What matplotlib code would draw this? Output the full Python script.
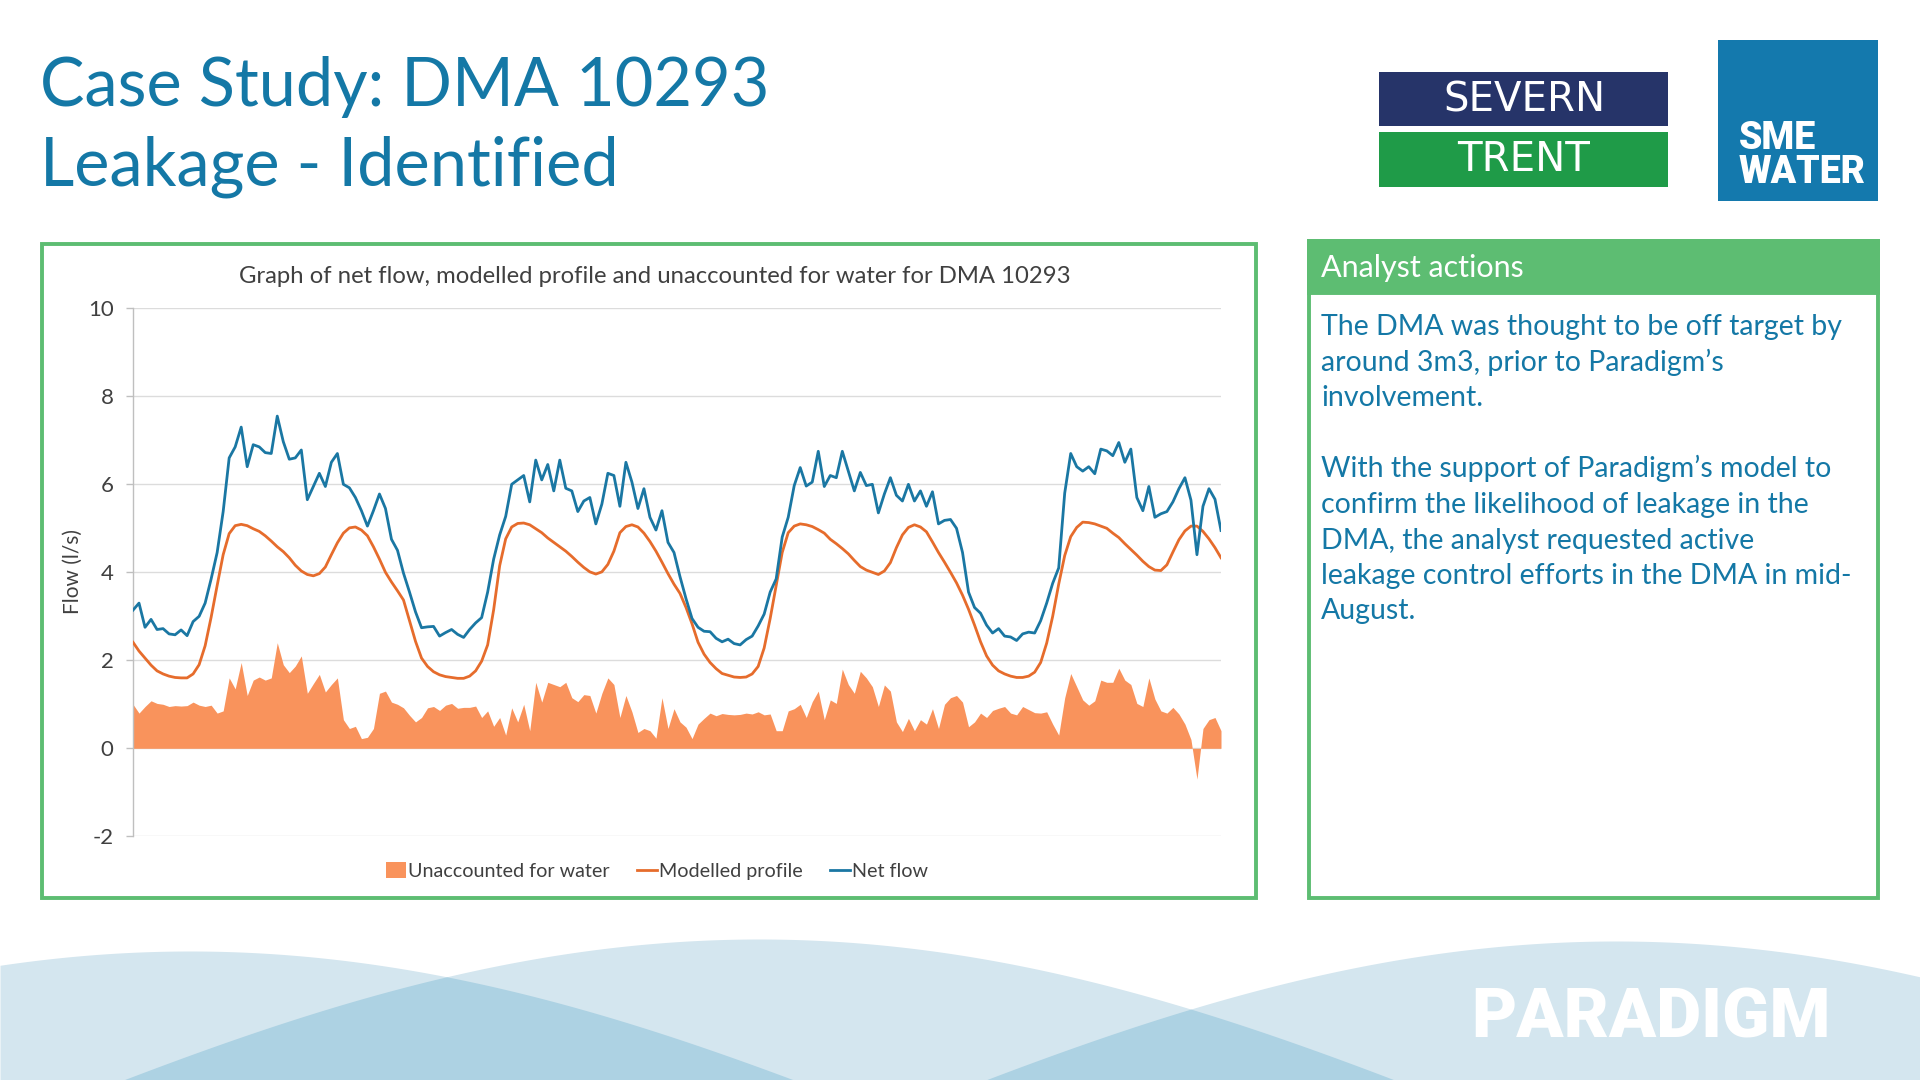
import numpy as np
import matplotlib
matplotlib.use("Agg")
import matplotlib.pyplot as plt
from matplotlib.patches import Rectangle, Patch
from matplotlib.lines import Line2D

# ---------------- data (30-min samples) ----------------
net_flow = [
    3.14, 3.30, 2.75, 2.93, 2.70, 2.72, 2.60, 2.58, 2.69, 2.56,
    2.88, 3.00, 3.30, 3.85, 4.45, 5.38, 6.60, 6.85, 7.30, 6.40,
    6.90, 6.85, 6.72, 6.70, 7.55, 6.97, 6.57, 6.60, 6.78, 5.65,
    5.95, 6.25, 5.95, 6.50, 6.70, 6.00, 5.92, 5.70, 5.40, 5.05,
    5.40, 5.78, 5.45, 4.75, 4.50, 3.98, 3.55, 3.10, 2.74, 2.76,
    2.77, 2.55, 2.63, 2.70, 2.59, 2.52, 2.70, 2.85, 2.97, 3.55,
    4.30, 4.85, 5.27, 6.00, 6.10, 6.20, 5.60, 6.55, 6.10, 6.45,
    5.85, 6.55, 5.91, 5.85, 5.38, 5.62, 5.70, 5.10, 5.55, 6.25,
    6.20, 5.50, 6.50, 6.05, 5.45, 5.90, 5.25, 4.96, 5.40, 4.68,
    4.45, 3.90, 3.40, 2.95, 2.75, 2.66, 2.65, 2.50, 2.42, 2.48,
    2.38, 2.35, 2.47, 2.55, 2.78, 3.05, 3.55, 3.85, 4.80, 5.25,
    5.97, 6.38, 5.96, 6.05, 6.75, 5.95, 6.20, 6.15, 6.75, 6.30,
    5.85, 6.27, 5.97, 6.00, 5.35, 5.78, 6.15, 5.75, 5.62, 6.00,
    5.62, 5.85, 5.50, 5.83, 5.10, 5.18, 5.20, 5.00, 4.45, 3.55,
    3.20, 3.07, 2.80, 2.62, 2.72, 2.55, 2.53, 2.45, 2.60, 2.64,
    2.62, 2.90, 3.30, 3.75, 4.10, 5.80, 6.70, 6.40, 6.30, 6.40,
    6.24, 6.80, 6.76, 6.65, 6.95, 6.50, 6.80, 5.70, 5.40, 5.95,
    5.25, 5.33, 5.38, 5.60, 5.90, 6.15, 5.64, 4.40, 5.50, 5.90,
    5.66, 4.95,
]

modelled_profile = [
    2.41, 2.21, 2.05, 1.89, 1.76, 1.69, 1.64, 1.61, 1.60, 1.60,
    1.69, 1.90, 2.33, 2.98, 3.70, 4.40, 4.88, 5.06, 5.09, 5.06,
    4.99, 4.93, 4.83, 4.71, 4.58, 4.47, 4.33, 4.16, 4.03, 3.95,
    3.92, 3.97, 4.12, 4.40, 4.67, 4.89, 5.01, 5.03, 4.96, 4.83,
    4.58, 4.30, 4.00, 3.78, 3.58, 3.37, 2.90, 2.43, 2.05, 1.86,
    1.74, 1.67, 1.63, 1.61, 1.59, 1.59, 1.64, 1.76, 1.98, 2.35,
    3.15, 4.15, 4.76, 5.03, 5.11, 5.12, 5.08, 4.99, 4.90, 4.78,
    4.68, 4.58, 4.48, 4.36, 4.23, 4.11, 4.01, 3.96, 4.01, 4.18,
    4.48, 4.90, 5.04, 5.08, 5.03, 4.89, 4.70, 4.48, 4.23, 3.97,
    3.73, 3.52, 3.20, 2.83, 2.41, 2.14, 1.95, 1.81, 1.70, 1.66,
    1.62, 1.61, 1.62, 1.69, 1.86, 2.28, 2.95, 3.70, 4.45, 4.90,
    5.05, 5.10, 5.08, 5.04, 4.97, 4.89, 4.75, 4.65, 4.54, 4.42,
    4.27, 4.13, 4.05, 4.00, 3.95, 4.03, 4.22, 4.56, 4.85, 5.02,
    5.08, 5.03, 4.92, 4.69, 4.45, 4.23, 4.00, 3.76, 3.48, 3.16,
    2.80, 2.42, 2.10, 1.89, 1.76, 1.69, 1.64, 1.61, 1.61, 1.64,
    1.73, 1.95, 2.39, 3.00, 3.73, 4.38, 4.81, 5.02, 5.14, 5.13,
    5.10, 5.05, 5.00, 4.89, 4.79, 4.65, 4.52, 4.39, 4.25, 4.13,
    4.05, 4.04, 4.17, 4.46, 4.74, 4.94, 5.05, 5.05, 4.93, 4.76,
    4.56, 4.33,
]

unaccounted_for_water = [
    1.00, 0.80, 0.95, 1.08, 1.02, 1.00, 0.95, 0.97, 0.96, 0.97,
    1.05, 0.98, 0.95, 0.98, 0.80, 0.85, 1.60, 1.35, 1.95, 1.20,
    1.55, 1.62, 1.55, 1.60, 2.40, 1.90, 1.72, 1.87, 2.10, 1.25,
    1.47, 1.68, 1.28, 1.45, 1.60, 0.65, 0.45, 0.50, 0.22, 0.25,
    0.45, 1.25, 1.30, 1.05, 1.00, 0.92, 0.75, 0.60, 0.70, 0.92,
    0.95, 0.86, 0.98, 1.02, 0.91, 0.93, 0.93, 0.96, 0.70, 0.85,
    0.50, 0.70, 0.30, 0.92, 0.60, 1.00, 0.40, 1.50, 1.05, 1.50,
    1.45, 1.40, 1.50, 1.15, 1.06, 1.22, 1.20, 0.80, 1.25, 1.60,
    1.45, 0.70, 1.20, 0.83, 0.36, 0.45, 0.40, 0.23, 1.15, 0.45,
    0.90, 0.60, 0.48, 0.22, 0.55, 0.68, 0.80, 0.74, 0.79, 0.77,
    0.76, 0.77, 0.80, 0.78, 0.83, 0.76, 0.78, 0.40, 0.40, 0.85,
    0.90, 1.00, 0.70, 1.06, 1.30, 0.65, 1.10, 1.02, 1.80, 1.45,
    1.25, 1.75, 1.60, 1.40, 0.95, 1.44, 1.30, 0.60, 0.38, 0.68,
    0.40, 0.65, 0.55, 0.90, 0.45, 1.00, 1.15, 1.20, 1.05, 0.49,
    0.60, 0.80, 0.70, 0.86, 0.91, 0.95, 0.80, 0.76, 0.95, 0.88,
    0.81, 0.80, 0.83, 0.55, 0.30, 1.15, 1.70, 1.40, 1.10, 0.98,
    1.08, 1.55, 1.50, 1.50, 1.82, 1.55, 1.45, 1.02, 0.95, 1.60,
    1.12, 0.85, 0.80, 0.93, 0.78, 0.55, 0.20, -0.70, 0.45, 0.65,
    0.70, 0.40,
]

y_ticks = [-2, 0, 2, 4, 6, 8, 10]
series_labels = ["Unaccounted for water", "Modelled profile", "Net flow"]

title_lines = ["Case Study: DMA 10293", "Leakage - Identified"]
chart_title = "Graph of net flow, modelled profile and unaccounted for water for DMA 10293"
panel_header = "Analyst actions"
panel_lines = [
    "The DMA was thought to be off target by",
    "around 3m3, prior to Paradigm\u2019s",
    "involvement.",
    "",
    "With the support of Paradigm\u2019s model to",
    "confirm the likelihood of leakage in the",
    "DMA, the analyst requested active",
    "leakage control efforts in the DMA in mid-",
    "August.",
]

# ---------------- styling ----------------
plt.rcParams["font.family"] = ["Lato", "DejaVu Sans"]
plt.rcParams["axes.unicode_minus"] = False
BLUE_TXT = "#1478a6"
GREEN = "#5dbd72"
GREY_TXT = "#404040"
C_AREA = "#f9935c"
C_MODEL = "#e66c2c"
C_NET = "#1a77a3"
WAVE_L = "#d4e6ef"
WAVE_D = "#add2e3"

W, H = 1920, 1080
fig = plt.figure(figsize=(19.2, 10.8), dpi=100)
fig.patch.set_facecolor("white")
bg = fig.add_axes([0, 0, 1, 1])
bg.set_xlim(0, W)
bg.set_ylim(H, 0)
bg.axis("off")

# decorative waves at the bottom
xs = np.linspace(0, W, 1200)
def hump(px, py):
    d = np.clip(np.abs(xs - px) / 500.0, 0, np.pi)
    return np.minimum(py + 200 * (1 - np.cos(d)), H)
h1, h2, h3 = hump(190, 951), hump(759, 939), hump(1616, 941)
for h in (h1, h2, h3):
    bg.fill_between(xs, h, H, where=h < H, color=WAVE_L, lw=0, zorder=0)
for a, b in ((h1, h2), (h2, h3)):
    top = np.maximum(a, b)
    bg.fill_between(xs, top, H, where=top < H, color=WAVE_D, lw=0, zorder=0.5)

bg.text(1471, 1038, "PARADIGM", color="white", fontsize=50, fontweight="black",
        family=["Roboto", "DejaVu Sans"], ha="left", va="baseline", zorder=2)

# title
bg.text(40, 106, title_lines[0], color=BLUE_TXT, fontsize=48, ha="left", va="baseline")
bg.text(40, 186, title_lines[1], color=BLUE_TXT, fontsize=48, ha="left", va="baseline")

# logos
bg.add_patch(Rectangle((1379, 72), 289, 54, fc="#263469", ec="none"))
bg.add_patch(Rectangle((1379, 132), 289, 55, fc="#1f9b48", ec="none"))
bg.text(1524, 100, "SEVERN", color="white", fontsize=29, family=["DejaVu Sans"],
        ha="center", va="center")
bg.text(1524, 160, "TRENT", color="white", fontsize=29, family=["DejaVu Sans"],
        ha="center", va="center")
bg.add_patch(Rectangle((1718, 40), 160, 161, fc="#1479ad", ec="none"))
bg.text(1739, 149, "SME", color="white", fontsize=27, fontweight="black",
        family=["Roboto", "DejaVu Sans"], ha="left", va="baseline")
bg.text(1739, 183, "WATER", color="white", fontsize=27, fontweight="black",
        family=["Roboto", "DejaVu Sans"], ha="left", va="baseline")

# chart frame
bg.add_patch(Rectangle((42, 244), 1214, 654, fc="white", ec=GREEN, lw=2.8, zorder=1))
# right panel
bg.add_patch(Rectangle((1309, 241), 569, 657, fc="white", ec=GREEN, lw=2.8, zorder=1))
bg.add_patch(Rectangle((1309, 241), 569, 52, fc=GREEN, ec=GREEN, lw=2.8, zorder=1.1))
bg.text(1321, 277, panel_header, color="white", fontsize=22, ha="left", va="baseline", zorder=2)
y0 = 335.5
for k, line in enumerate(panel_lines):
    if line:
        bg.text(1321, y0 + k * 35.5, line, color=BLUE_TXT, fontsize=20.5,
                ha="left", va="baseline", zorder=2)

# chart texts
bg.text(655, 283, chart_title, color=GREY_TXT, fontsize=17.2, ha="center", va="baseline", zorder=2)
bg.text(73, 572, "Flow (l/s)", color=GREY_TXT, fontsize=15, rotation=90,
        ha="center", va="center", zorder=2)

# ---------------- chart ----------------
ax = fig.add_axes([133 / W, (H - 836.3) / H, 1088 / W, 528 / H])
ax.set_facecolor("none")
x = np.arange(len(net_flow))
ax.fill_between(x, 0, unaccounted_for_water, color=C_AREA, lw=0, zorder=2)
ax.plot(x, modelled_profile, color=C_MODEL, lw=2.0, zorder=3)
ax.plot(x, net_flow, color=C_NET, lw=2.0, zorder=4)

ax.set_xlim(0, len(net_flow) - 1)
ax.set_ylim(-2, 10)
ax.set_yticks(y_ticks)
ax.set_xticks([])
ax.yaxis.grid(True, color="#dcdcdc", lw=1.0, zorder=0)
ax.set_axisbelow(True)
for s in ("top", "right", "bottom"):
    ax.spines[s].set_visible(False)
ax.spines["left"].set_color("#bfbfbf")
ax.spines["left"].set_linewidth(1.0)
ax.tick_params(axis="y", length=5, width=1, color="#bfbfbf", pad=9,
               labelsize=16, labelcolor=GREY_TXT)

handles = [Patch(facecolor=C_AREA, edgecolor="none"),
           Line2D([0], [0], color=C_MODEL, lw=2.0),
           Line2D([0], [0], color=C_NET, lw=2.0)]
fig.legend(handles, series_labels, loc="center", bbox_to_anchor=(657 / W, 1 - 871 / H),
           ncol=3, frameon=False, fontsize=14.2, handlelength=1.0, handleheight=0.85,
           handletextpad=0.1, columnspacing=1.4, labelcolor=GREY_TXT)

fig.savefig("out.png", dpi=100, facecolor="white")
